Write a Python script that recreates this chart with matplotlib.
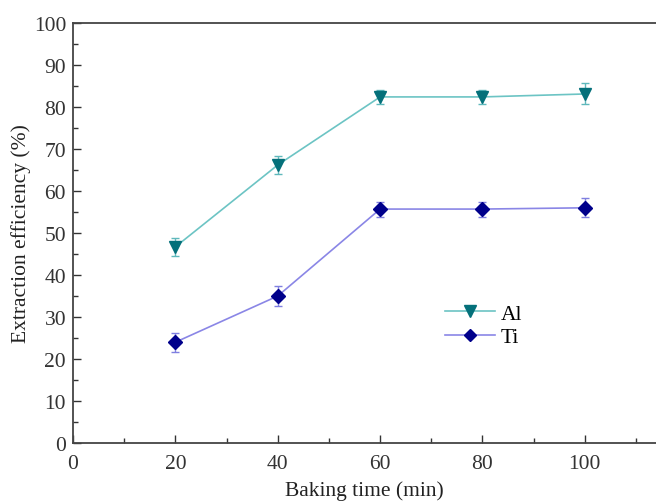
import matplotlib.pyplot as plt
from matplotlib.lines import Line2D
from matplotlib.ticker import MultipleLocator

plt.rcParams['font.family'] = ['Liberation Serif', 'DejaVu Serif']

# data
baking_time = [20, 40, 60, 80, 100]
al_eff = [46.7, 66.2, 82.4, 82.4, 83.1]
al_err = [2.2, 2.2, 1.6, 1.6, 2.5]
ti_eff = [24.0, 35.0, 55.7, 55.7, 56.0]
ti_err = [2.3, 2.3, 1.8, 1.8, 2.3]

al_style = dict(color='#6cc4c4', lw=1.2, marker='v', ms=9, mfc='#04707a', mec='#04707a')
ti_style = dict(color='#8a86e6', lw=1.2, marker='D', ms=7, mfc='#00008b', mec='#00008b')

fig = plt.figure(figsize=(6.56, 5.02), dpi=100)
ax = fig.add_axes([0.1113, 0.1155, 0.8887, 0.8367])

ax.errorbar(baking_time, al_eff, yerr=al_err, ecolor='#5fb8bc',
            elinewidth=1.0, capsize=3, **al_style)
ax.errorbar(baking_time, ti_eff, yerr=ti_err, ecolor='#7f7fe0',
            elinewidth=1.0, capsize=3, **ti_style)

ax.set_xlim(0, 113.9)
ax.set_ylim(0, 100)
ax.xaxis.set_major_locator(MultipleLocator(20))
ax.xaxis.set_minor_locator(MultipleLocator(10))
ax.yaxis.set_major_locator(MultipleLocator(10))
ax.yaxis.set_minor_locator(MultipleLocator(5))
ax.tick_params(which='both', direction='in', labelsize=15.5, colors='#333333',
               top=False, right=False)
ax.tick_params(axis='x', pad=8)
ax.tick_params(axis='y', pad=5)
ax.tick_params(which='major', length=6, width=1)
ax.tick_params(which='minor', length=3.5, width=1)

for side in ['left', 'bottom', 'top']:
    ax.spines[side].set_color('#444444')
    ax.spines[side].set_linewidth(1.3)
ax.spines['right'].set_visible(False)

ax.set_xlabel('Baking time (min)', fontsize=15.5, labelpad=5, color='#222222')
ax.set_ylabel('Extraction efficiency (%)', fontsize=15.5, labelpad=2, color='#222222')

handles = [Line2D([], [], **{**al_style, 'ms': 8}), Line2D([], [], **{**ti_style, 'ms': 6})]
ax.legend(handles, ['Al', 'Ti'], loc='center left', bbox_to_anchor=(0.605, 0.28),
          frameon=False, fontsize=15.5, handlelength=2.3, handletextpad=0.3,
          labelspacing=0.15)

fig.savefig('out.png', dpi=100)
